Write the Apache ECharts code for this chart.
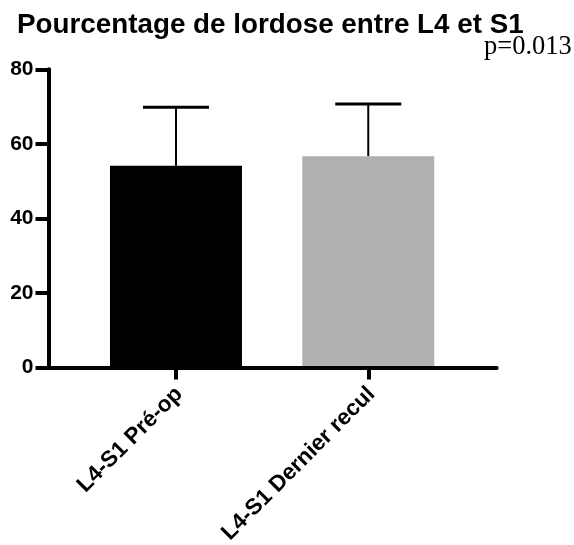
<!DOCTYPE html>
<html>
<head>
<meta charset="utf-8">
<script src="https://cdn.jsdelivr.net/npm/echarts@6/dist/echarts.min.js"></script>
<style>
html,body{margin:0;padding:0;background:#fff;}
#chart{width:574px;height:545px;}
</style>
</head>
<body>
<div id="chart"></div>
<script>
const categories = ['L4-S1 Pré-op', 'L4-S1 Dernier recul'];
const means = [54.1, 56.7];
const sds = [15.7, 14.0];
const yTicks = [0, 20, 40, 60, 80];
const titleText = 'Pourcentage de lordose entre L4 et S1';
const pText = 'p=0.013';

const barColors = ['#000000', '#b0b0b0'];

const chart = echarts.init(document.getElementById('chart'), null, {renderer: 'canvas'});

const catIdx = categories.map((c, i) => i);

chart.setOption({
  animation: false,
  backgroundColor: '#ffffff',
  title: {
    text: titleText,
    left: 17,
    top: 11,
    padding: 0,
    textStyle: {fontFamily: 'Liberation Sans, Arial', fontWeight: 'bold', fontSize: 27.8, color: '#000'}
  },
  graphic: [{
    type: 'text',
    left: 484,
    top: 34,
    style: {text: pText, fontFamily: 'Liberation Serif, Times New Roman', fontSize: 26.5, fill: '#000'}
  }],
  grid: {left: 48.5, right: 77.3, top: 69.3, bottom: 545 - 367.5, containLabel: false, outerBoundsMode: 'none'},
  xAxis: {
    type: 'value',
    min: -0.663,
    max: 1.668,
    z: 5,
    splitLine: {show: false},
    axisLine: {show: true, onZero: false, lineStyle: {color: '#000', width: 4}},
    axisTick: {show: true, customValues: catIdx, length: 12, lineStyle: {color: '#000', width: 4}},
    axisLabel: {
      show: true,
      customValues: catIdx,
      rotate: 45,
      align: 'right',
      verticalAlign: 'top',
      margin: 20,
      lineHeight: 9,
      fontFamily: 'Liberation Sans, Arial',
      fontWeight: 'bold',
      fontSize: 22.5,
      color: '#000',
      formatter: v => categories[Math.round(v)]
    }
  },
  yAxis: {
    type: 'value',
    min: 0,
    max: 80,
    interval: 20,
    z: 5,
    splitLine: {show: false},
    axisLine: {show: true, onZero: false, lineStyle: {color: '#000', width: 4}},
    axisTick: {show: true, length: 13, lineStyle: {color: '#000', width: 4}},
    axisLabel: {
      margin: 15,
      fontFamily: 'Liberation Sans, Arial',
      fontWeight: 'bold',
      fontSize: 21,
      color: '#000',
      customValues: yTicks
    }
  },
  series: [
    {
      type: 'bar',
      barWidth: 132,
      data: means.map((m, i) => ({value: [i, m], itemStyle: {color: barColors[i]}})),
      z: 2
    },
    {
      type: 'custom',
      z: 3,
      data: means.map((m, i) => [i, m, m + sds[i]]),
      renderItem: function (params, api) {
        const x = api.value(0);
        const base = api.coord([x, api.value(1)]);
        const top = api.coord([x, api.value(2)]);
        const half = 33;
        return {
          type: 'group',
          children: [
            {type: 'line', shape: {x1: base[0], y1: base[1], x2: top[0], y2: top[1]}, style: {stroke: '#000', lineWidth: 2}},
            {type: 'line', shape: {x1: top[0] - half, y1: top[1], x2: top[0] + half, y2: top[1]}, style: {stroke: '#000', lineWidth: 3}}
          ]
        };
      }
    }
  ]
});
</script>
</body>
</html>
